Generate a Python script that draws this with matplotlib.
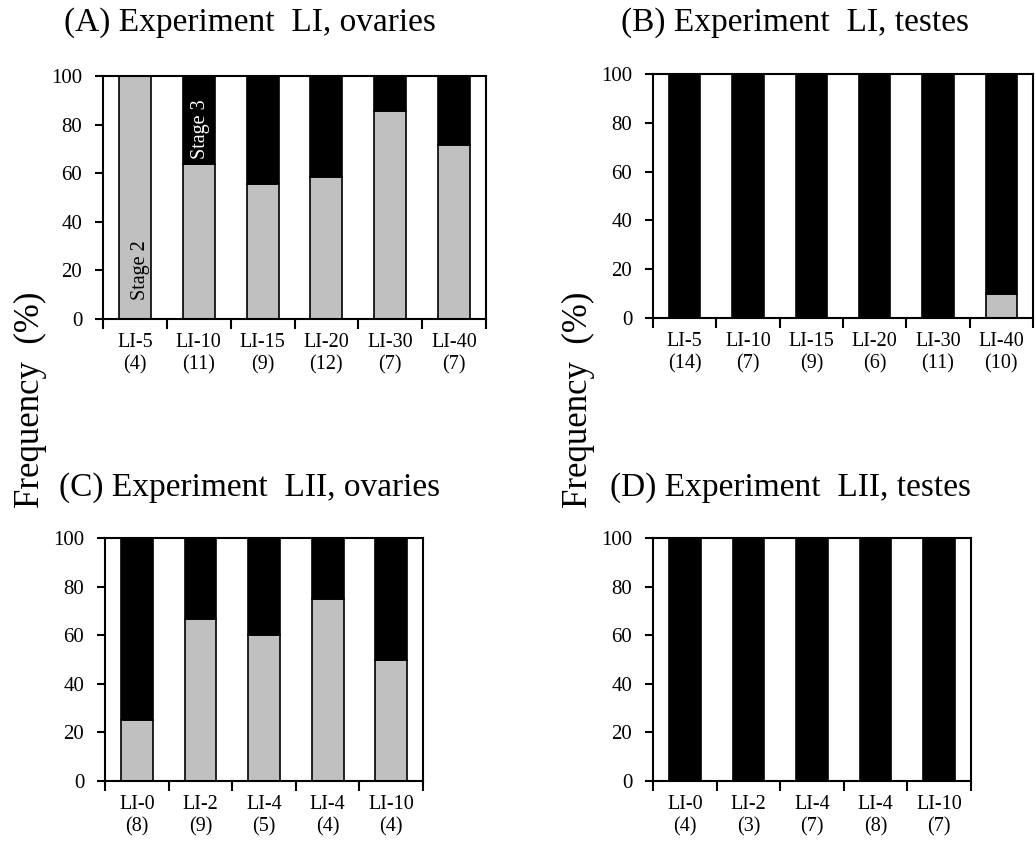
import matplotlib.pyplot as plt
import numpy as np

plt.rcParams['font.family'] = ['Liberation Serif', 'DejaVu Serif']

# Panel data: stage 2 percentage (gray); stage 3 is the remainder (black)
labels_a = ['LI-5\n(4)', 'LI-10\n(11)', 'LI-15\n(9)', 'LI-20\n(12)', 'LI-30\n(7)', 'LI-40\n(7)']
stage2_a = [100, 63.6, 55.6, 58.3, 85.7, 71.4]

labels_b = ['LI-5\n(14)', 'LI-10\n(7)', 'LI-15\n(9)', 'LI-20\n(6)', 'LI-30\n(11)', 'LI-40\n(10)']
stage2_b = [0, 0, 0, 0, 0, 10]

labels_c = ['LI-0\n(8)', 'LI-2\n(9)', 'LI-4\n(5)', 'LI-4\n(4)', 'LI-10\n(4)']
stage2_c = [25, 66.7, 60, 75, 50]

labels_d = ['LI-0\n(4)', 'LI-2\n(3)', 'LI-4\n(7)', 'LI-4\n(8)', 'LI-10\n(7)']
stage2_d = [0, 0, 0, 0, 0]

W, H = 1036, 848
fig = plt.figure(figsize=(W / 100, H / 100), dpi=100)


def px_axes(left, top, right, bottom):
    return fig.add_axes([left / W, 1 - bottom / H, (right - left) / W, (bottom - top) / H])


def draw_panel(ax, labels, stage2):
    x = np.arange(len(labels))
    s2 = np.array(stage2, dtype=float)
    s3 = 100 - s2
    ax.bar(x, s2, width=0.5, color='#c0c0c0', edgecolor='black', linewidth=1.2)
    ax.bar(x, s3, width=0.5, bottom=s2, color='black', edgecolor='black', linewidth=1.2)
    ax.set_xlim(-0.5, len(labels) - 0.5)
    ax.set_ylim(0, 100)
    ax.set_yticks(range(0, 101, 20))
    ax.set_xticks(x)
    ax.set_xticklabels(labels, linespacing=1.2)
    ax.set_xticks(np.arange(len(labels) + 1) - 0.5, minor=True)
    ax.tick_params(axis='x', which='major', length=0, pad=10, labelsize=14.5)
    ax.tick_params(axis='x', which='minor', length=7, width=1.5, direction='out')
    ax.tick_params(axis='y', length=6, width=1.5, direction='out', labelsize=15, pad=9)
    for sp in ax.spines.values():
        sp.set_linewidth(1.5)


ax_a = px_axes(103, 76, 486, 319)
draw_panel(ax_a, labels_a, stage2_a)
ax_a.text(0.08, 20, 'Stage 2', rotation=90, ha='center', va='center', fontsize=14.5, color='black')
ax_a.text(1.02, 78, 'Stage 3', rotation=90, ha='center', va='center', fontsize=14.5, color='white')

ax_b = px_axes(653, 74, 1033, 318)
draw_panel(ax_b, labels_b, stage2_b)

ax_c = px_axes(105, 538, 423, 781)
draw_panel(ax_c, labels_c, stage2_c)

ax_d = px_axes(653, 538, 971, 781)
draw_panel(ax_d, labels_d, stage2_d)

fig.text(250 / W, 1 - 23 / H, '(A) Experiment  LI, ovaries', ha='center', va='center', fontsize=24)
fig.text(795 / W, 1 - 23 / H, '(B) Experiment  LI, testes', ha='center', va='center', fontsize=24)
fig.text(250 / W, 1 - 488 / H, '(C) Experiment  LII, ovaries', ha='center', va='center', fontsize=24)
fig.text(791 / W, 1 - 488 / H, '(D) Experiment  LII, testes', ha='center', va='center', fontsize=24)

fig.text(30 / W, 1 - 400 / H, 'Frequency  (%)', rotation=90, ha='center', va='center', fontsize=25)
fig.text(578 / W, 1 - 400 / H, 'Frequency  (%)', rotation=90, ha='center', va='center', fontsize=25)

fig.savefig('out.png', dpi=100)
